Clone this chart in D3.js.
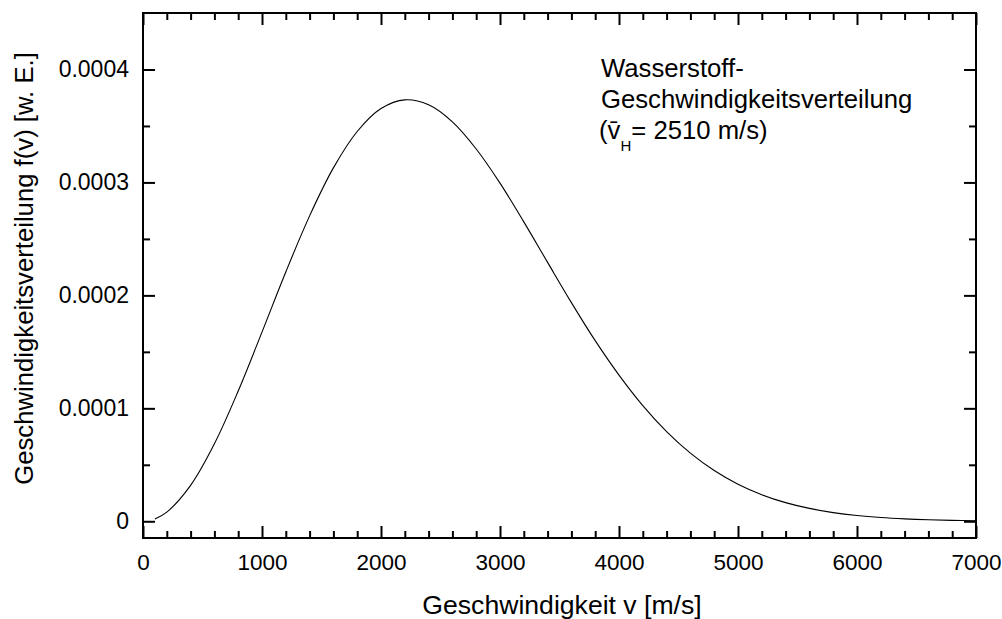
<!DOCTYPE html>
<html>
<head>
<meta charset="utf-8">
<script src="https://cdn.jsdelivr.net/npm/d3@7"></script>
<style>
  html, body { margin: 0; padding: 0; background: #fff; }
  svg { display: block; font-family: "Liberation Sans", Arial, sans-serif; }
</style>
</head>
<body>
<svg id="chart" width="1002" height="619"></svg>
<script>
// Speed values [m/s]
const speeds = [100, 200, 400, 600, 800, 1000, 1200, 1400, 1600, 1800, 2000, 2200, 2400, 2600, 2800, 3000,
  3200, 3400, 3600, 3800, 4000, 4200, 4400, 4600, 4800, 5000, 5200, 5400, 5600, 5800, 6000, 6200, 6400, 6600, 6800, 7000];
// Distribution values f(v) [w. E.]
const densities = [0.0000020, 0.0000081, 0.0000318, 0.0000686, 0.0001153, 0.0001675, 0.0002207, 0.0002704,
  0.0003129, 0.0003451, 0.0003654, 0.0003731, 0.0003687, 0.0003536, 0.0003296, 0.0002994,
  0.0002651, 0.0002292, 0.0001936, 0.0001599, 0.0001294, 0.0001024, 0.0000794, 0.0000603,
  0.0000449, 0.0000328, 0.0000235, 0.0000165, 0.0000114, 0.0000077, 0.0000051, 0.0000033,
  0.0000021, 0.0000013, 0.0000008, 0.0000005];
const xTicks = [0, 1000, 2000, 3000, 4000, 5000, 6000, 7000];
const yTicks = [0, 0.0001, 0.0002, 0.0003, 0.0004];
const yTickLabels = ["0", "0.0001", "0.0002", "0.0003", "0.0004"];
const xMinorTicks = d3.range(0, 7001, 200);
const yMinorTicks = [0, 0.00005, 0.0001, 0.00015, 0.0002, 0.00025, 0.0003, 0.00035, 0.0004];
const xTitle = "Geschwindigkeit v [m/s]";
const yTitle = "Geschwindigkeitsverteilung f(v) [w. E.]";
const noteLines = ["Wasserstoff-", "Geschwindigkeitsverteilung"];

const W = 1002, H = 619;
const m = { left: 143, right: 26, top: 13, bottom: 81 };
const pw = W - m.left - m.right, ph = H - m.top - m.bottom;

const svg = d3.select("#chart");
const g = svg.append("g").attr("transform", `translate(${m.left},${m.top})`);

const x = d3.scaleLinear().domain([0, 7000]).range([0, pw]);
const y = d3.scaleLinear().domain([-0.0000148, 0.00045]).range([ph, 0]);

const data = speeds.map((v, i) => ({ v, f: densities[i] }));

// curve
g.append("path")
  .datum(data)
  .attr("fill", "none")
  .attr("stroke", "#000")
  .attr("stroke-width", 1.1)
  .attr("d", d3.line().x(d => x(d.v)).y(d => y(d.f)).curve(d3.curveCatmullRom));

// axes (ticks inward, mirrored on all sides)
function styleAxis(sel, fs) {
  sel.select(".domain").remove();
  sel.selectAll(".tick line").attr("stroke", "#000").attr("stroke-width", 2);
  sel.selectAll("text").attr("font-size", fs || 22.5).attr("fill", "#000");
}
const fmtY = d => yTickLabels[yTicks.indexOf(d)];
const xMinor = xMinorTicks.filter(t => !xTicks.includes(t));
const yMinor = yMinorTicks.filter(t => !yTicks.includes(t));

// minor ticks
g.append("g").attr("transform", `translate(0,${ph})`)
  .call(d3.axisBottom(x).tickValues(xMinor).tickSize(-7).tickFormat(""))
  .call(styleAxis);
g.append("g")
  .call(d3.axisTop(x).tickValues(xMinor).tickSize(-7).tickFormat(""))
  .call(styleAxis);
g.append("g")
  .call(d3.axisLeft(y).tickValues(yMinor).tickSize(-7).tickFormat(""))
  .call(styleAxis);
g.append("g").attr("transform", `translate(${pw},0)`)
  .call(d3.axisRight(y).tickValues(yMinor).tickSize(-7).tickFormat(""))
  .call(styleAxis);

// major ticks
g.append("g").attr("transform", `translate(0,${ph})`)
  .call(d3.axisBottom(x).tickValues(xTicks).tickSize(-12).tickPadding(16).tickFormat(d3.format("d")))
  .call(styleAxis, 22.5);
g.append("g")
  .call(d3.axisTop(x).tickValues(xTicks).tickSize(-12).tickFormat(""))
  .call(styleAxis);
g.append("g")
  .call(d3.axisLeft(y).tickValues(yTicks).tickSize(-12).tickPadding(14).tickFormat(fmtY))
  .call(styleAxis, 23);
g.append("g").attr("transform", `translate(${pw},0)`)
  .call(d3.axisRight(y).tickValues(yTicks).tickSize(-12).tickFormat(""))
  .call(styleAxis);

// frame
g.append("rect").attr("x", 0).attr("y", 0).attr("width", pw).attr("height", ph)
  .attr("fill", "none").attr("stroke", "#000").attr("stroke-width", 2);

// titles
svg.append("text")
  .attr("x", 562).attr("y", 614)
  .attr("text-anchor", "middle").attr("font-size", 26.6).attr("fill", "#000")
  .text(xTitle);
svg.append("text")
  .attr("transform", "translate(33,268.5) rotate(-90)")
  .attr("text-anchor", "middle").attr("font-size", 25.7).attr("fill", "#000")
  .text(yTitle);

// annotation
noteLines.forEach((t, i) => {
  svg.append("text").attr("x", 601).attr("y", 77 + i * 31)
    .attr("font-size", 25.7).attr("fill", "#000").text(t);
});
const l3 = svg.append("text").attr("x", 599).attr("y", 139).attr("font-size", 25.7).attr("fill", "#000");
l3.append("tspan").text("(");
l3.append("tspan").text("v\u0304");
l3.append("tspan").attr("font-size", 15).attr("dy", 12).text("H");
l3.append("tspan").attr("dy", -12).text("= 2510 m/s)");
</script>
</body>
</html>
